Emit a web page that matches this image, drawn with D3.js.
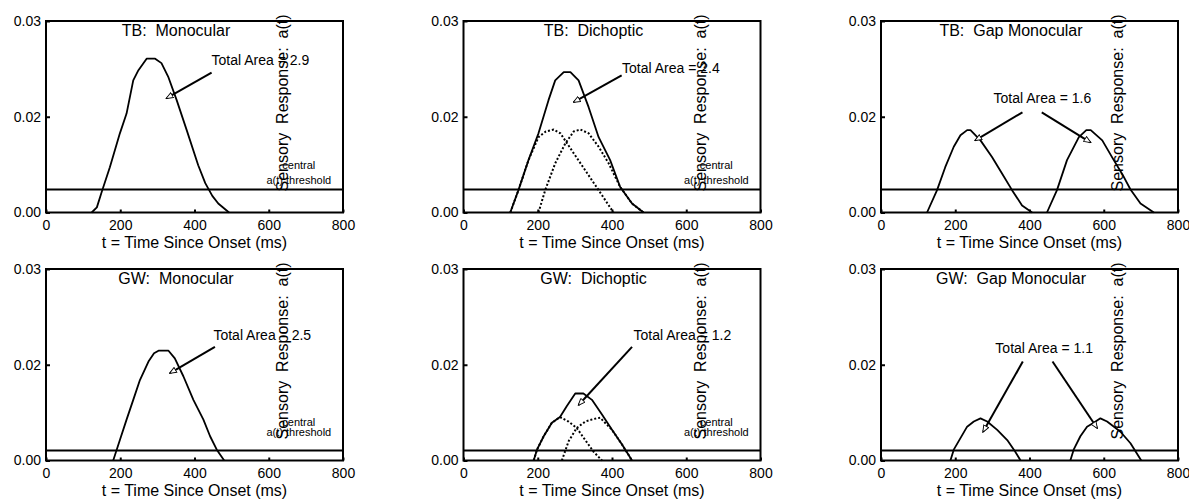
<!DOCTYPE html>
<html>
<head>
<meta charset="utf-8">
<script src="https://cdn.jsdelivr.net/npm/d3@7"></script>
<style>
body { margin: 0; background: #fff; }
text { font-family: "Liberation Sans", Arial, sans-serif; fill: #000; }
</style>
</head>
<body>
<svg id="chart"></svg>
<script>
// axis ticks
const xTicks = [0, 200, 400, 600, 800];
const yTicks = [0, 0.015, 0.03];
const yTickLabels = ['0.00', '0.02', '0.03'];

const titles = ['TB:  Monocular', 'TB:  Dichoptic', 'TB:  Gap Monocular',
	'GW:  Monocular', 'GW:  Dichoptic', 'GW:  Gap Monocular'];
const areaLabels = ['Total Area = 2.9', 'Total Area = 2.4', 'Total Area = 1.6',
	'Total Area = 2.5', 'Total Area = 1.2', 'Total Area = 1.1'];
const thresholds = [0.0036, 0.00157]; // TB row, GW row

// sensory response curves, [t (ms), a(t)]
const tbMono = [[123,0],[137,0.0008],[150,0.0032],[172,0.0071],[199,0.0124],[217,0.0155],[235,0.0207],[249,0.0223],[271,0.0241],[294,0.0241],[311,0.0234],[329,0.0213],[352,0.0176],[379,0.0129],[410,0.0074],[429,0.0046],[448,0.0026],[464,0.0014],[493,0]];
const tbDich = [[126,0],[148,0.0035],[175,0.0082],[202,0.0124],[229,0.0176],[247,0.0207],[270,0.022],[288,0.022],[310,0.0207],[337,0.0165],[364,0.0118],[395,0.0082],[422,0.004],[454,0.0014],[485,0]];
const tbDichA = [[126,0],[148,0.0035],[175,0.0082],[202,0.0118],[222,0.0127],[243,0.013],[261,0.0124],[292,0.0097],[328,0.0066],[364,0.0035],[404,0]];
const tbDichB = [[202,0],[220,0.0035],[247,0.0077],[274,0.0108],[297,0.0127],[315,0.013],[337,0.0124],[364,0.0103],[391,0.0077],[422,0.004],[454,0.0014],[485,0]];
const tbGapA = [[124,0],[151,0.0035],[173,0.0071],[196,0.0103],[214,0.0121],[232,0.0129],[241,0.0129],[268,0.0113],[299,0.0087],[326,0.0061],[353,0.0035],[380,0.0011],[407,0]];
const tbGapB = [[447,0],[474,0.0035],[501,0.0082],[533,0.0118],[553,0.0129],[565,0.0129],[596,0.0113],[627,0.0082],[650,0.006],[672,0.0036],[699,0.0014],[735,0]];
const gwMono = [[181,0],[199,0.0032],[217,0.0064],[235,0.0095],[253,0.0126],[276,0.0155],[291,0.0168],[303,0.0172],[330,0.0172],[347,0.016],[370,0.0132],[397,0.0095],[424,0.0064],[442,0.0038],[460,0.0017],[480,0]];
const gwDich = [[189,0],[198,0.0017],[216,0.0038],[238,0.0059],[260,0.0068],[278,0.0085],[301,0.0105],[323,0.0105],[346,0.0095],[373,0.0072],[400,0.0048],[427,0.0025],[454,0]];
const gwDichA = [[189,0],[198,0.0017],[216,0.0038],[238,0.0059],[260,0.0068],[283,0.0061],[305,0.0051],[328,0.0032],[350,0.0014],[373,0]];
const gwDichB = [[265,0],[283,0.003],[305,0.0051],[328,0.0061],[350,0.0065],[368,0.0067],[400,0.0048],[427,0.0025],[454,0]];
const gwGapA = [[187,0],[196,0.0017],[214,0.0035],[232,0.0053],[250,0.0061],[268,0.0066],[286,0.0061],[313,0.0048],[340,0.0032],[358,0.0017],[376,0]];
const gwGapB = [[510,0],[519,0.0017],[537,0.0038],[555,0.0053],[573,0.0059],[591,0.0066],[609,0.0061],[645,0.0045],[672,0.0027],[701,0]];

// annotation anchors in data units
const areaTextAt = [[446,0.0231],[427,0.0219],[303,0.0172],[451,0.0189],[458,0.0189],[308,0.0168]];
const areaArrows = [
	[[446,0.0219,325,0.0179]],
	[[426,0.0215,297,0.0173]],
	[[381,0.0157,254,0.0113],[433,0.0157,564,0.011]],
	[[455,0.0178,334,0.0137]],
	[[454,0.0178,310,0.0087]],
	[[382,0.0155,275,0.0045],[462,0.0155,582,0.0051]]
];
const threshLabelT = 681;
const threshLabelA = [[0.00675, 0.00451], [0.00548, 0.00387]];

const panels = [
	{ solid: [tbMono], dotted: [], threshLabel: true },
	{ solid: [tbDich], dotted: [tbDichA, tbDichB], threshLabel: true },
	{ solid: [tbGapA, tbGapB], dotted: [], threshLabel: false },
	{ solid: [gwMono], dotted: [], threshLabel: true },
	{ solid: [gwDich], dotted: [gwDichA, gwDichB], threshLabel: true },
	{ solid: [gwGapA, gwGapB], dotted: [], threshLabel: false }
];

const width = 1189, height = 500;
const svg = d3.select('#chart')
	.attr('width', width)
	.attr('height', height);

const pw = 297, ph = 191.5;
const xScale = d3.scaleLinear().domain([0, 800]).range([0, pw]);
const yScale = d3.scaleLinear().domain([0, 0.03]).range([ph, 0]);
const line = d3.line().x(d => xScale(d[0])).y(d => yScale(d[1]));

svg.append('defs').append('marker')
	.attr('id', 'head')
	.attr('viewBox', '0 0 10 10')
	.attr('refX', 9).attr('refY', 5)
	.attr('markerUnits', 'userSpaceOnUse')
	.attr('markerWidth', 8).attr('markerHeight', 7)
	.attr('orient', 'auto')
	.append('path')
		.attr('d', 'M0,1 L10,5 L0,9 Z')
		.attr('fill', '#fff')
		.attr('stroke', '#000')
		.attr('stroke-width', 1.3);

panels.forEach((p, i) => {
	const col = i % 3, row = Math.floor(i / 3);
	const g = svg.append('g')
		.attr('transform', `translate(${46 + col * 417.5}, ${21 + row * 248})`);

	// axes
	const xAxisG = g.append('g')
		.attr('transform', `translate(0, ${ph})`)
		.call(d3.axisBottom(xScale).tickValues(xTicks).tickSizeInner(-3).tickSizeOuter(0).tickPadding(8));
	const yAxisG = g.append('g')
		.call(d3.axisLeft(yScale).tickValues(yTicks).tickFormat((d, k) => yTickLabels[k])
			.tickSizeInner(-4).tickSizeOuter(0).tickPadding(5));
	[xAxisG, yAxisG].forEach(a => {
		a.select('.domain').remove();
		a.selectAll('line').attr('stroke', '#000').attr('stroke-width', 2);
		a.selectAll('text').style('font-family', '"Liberation Sans", Arial, sans-serif')
			.style('font-size', '14px').attr('fill', '#000');
	});

	// frame
	g.append('rect')
		.attr('width', pw).attr('height', ph)
		.attr('fill', 'none').attr('stroke', '#000').attr('stroke-width', 2);

	// threshold
	const th = thresholds[row];
	g.append('line')
		.attr('x1', 0).attr('x2', pw)
		.attr('y1', yScale(th)).attr('y2', yScale(th))
		.attr('stroke', '#000').attr('stroke-width', 2);

	// curves
	g.selectAll('path.dot')
		.data(p.dotted)
		.enter().append('path')
			.attr('class', 'dot')
			.attr('d', line)
			.attr('fill', 'none').attr('stroke', '#000')
			.attr('stroke-width', 2).attr('stroke-dasharray', '2,2');
	g.selectAll('path.solid')
		.data(p.solid)
		.enter().append('path')
			.attr('class', 'solid')
			.attr('d', line)
			.attr('fill', 'none').attr('stroke', '#000')
			.attr('stroke-width', 1.8).attr('stroke-linejoin', 'round');

	// title
	g.append('text')
		.attr('x', 130).attr('y', 15)
		.attr('text-anchor', 'middle')
		.style('font-size', '16px').style('white-space', 'pre')
		.text(titles[i]);

	// y label (sits inside the frame, as in the original)
	g.append('text')
		.attr('transform', `translate(242, 82) rotate(-90)`)
		.attr('text-anchor', 'middle')
		.style('font-size', '16px').style('white-space', 'pre')
		.text('Sensory  Response:  a(t)');

	// x label
	g.append('text')
		.attr('x', pw / 2).attr('y', ph + 35.5)
		.attr('text-anchor', 'middle')
		.style('font-size', '16px')
		.text('t = Time Since Onset (ms)');

	// threshold label
	if (p.threshLabel) {
		['central', 'a(t) threshold'].forEach((s, k) => {
			g.append('text')
				.attr('x', xScale(threshLabelT))
				.attr('y', yScale(threshLabelA[row][k]))
				.attr('text-anchor', 'middle')
				.style('font-size', '11px')
				.text(s);
		});
	}

	// area annotation
	g.append('text')
		.attr('x', xScale(areaTextAt[i][0]))
		.attr('y', yScale(areaTextAt[i][1]))
		.style('font-size', '14px')
		.text(areaLabels[i]);
	g.selectAll('line.arrow')
		.data(areaArrows[i])
		.enter().append('line')
			.attr('class', 'arrow')
			.attr('x1', d => xScale(d[0])).attr('y1', d => yScale(d[1]))
			.attr('x2', d => xScale(d[2])).attr('y2', d => yScale(d[3]))
			.attr('stroke', '#000').attr('stroke-width', 2)
			.attr('marker-end', 'url(#head)');
});
</script>
</body>
</html>
